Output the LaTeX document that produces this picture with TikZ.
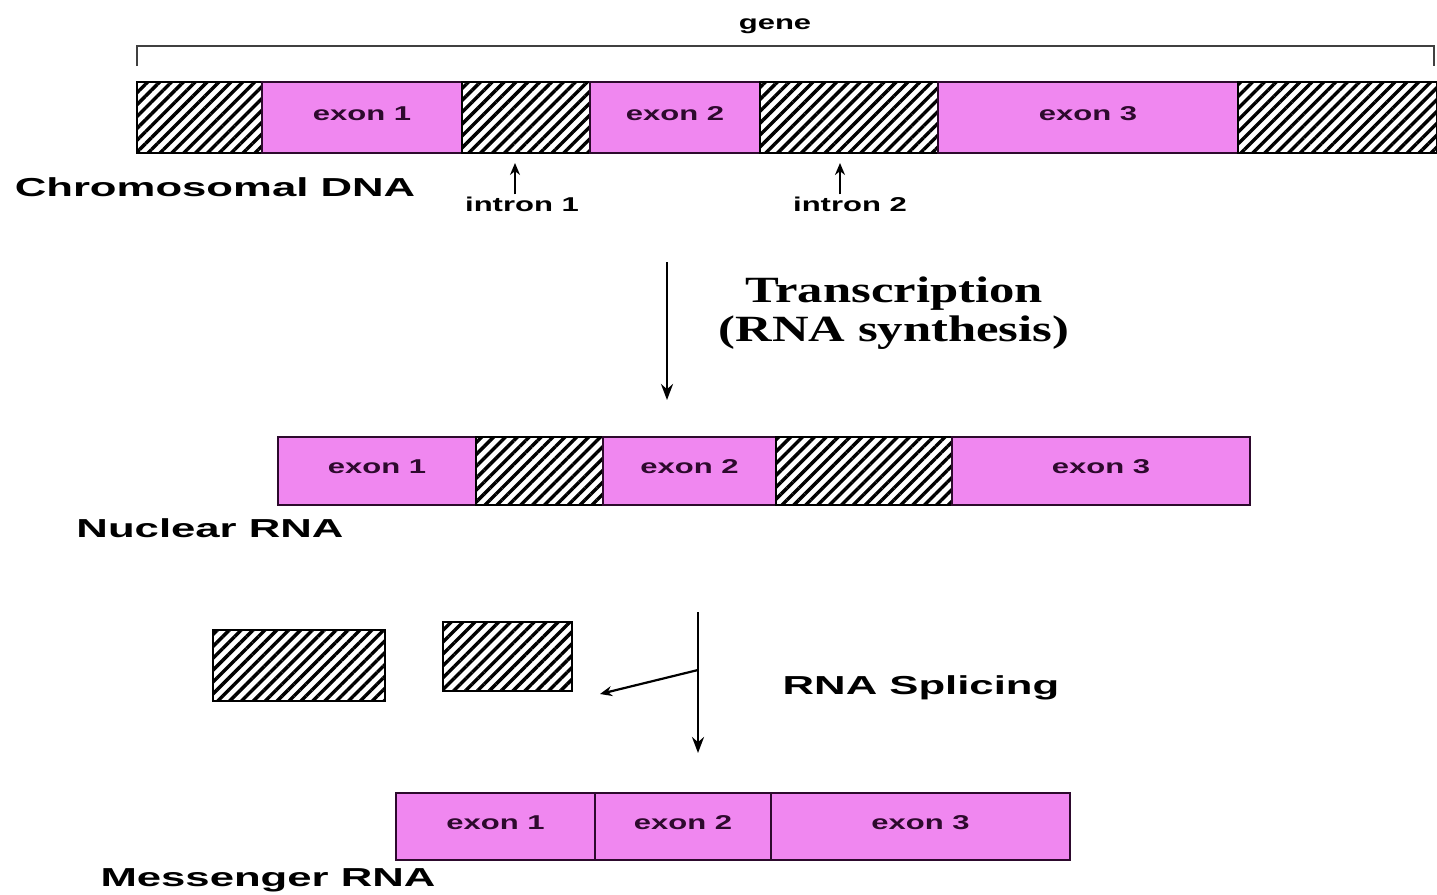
\documentclass[tikz,border=0pt]{standalone}
\usepackage{fontspec}
\setmainfont{Liberation Serif}
\newfontfamily\lblfont[FakeStretch=1.55]{Liberation Sans}
\newfontfamily\biglblfont[FakeStretch=1.68]{Liberation Sans}
\newfontfamily\serfont[FakeStretch=1.37]{Liberation Serif}
\usetikzlibrary{patterns.meta,fit,arrows.meta}
\definecolor{exonpink}{RGB}{240,135,240}
\definecolor{edge}{RGB}{45,10,45}
\tikzset{
  seg/.style={draw=edge, line width=1.2pt, inner sep=0pt, outer sep=0pt},
  exon/.style={seg, fill=exonpink},
  intron/.style={seg, draw=black, pattern={Lines[angle=45,distance=4.2pt,line width=1.7pt]}},
  exlbl/.style={font=\lblfont\bfseries\fontsize{10}{12}\selectfont, inner sep=0pt, text=edge},
  biglbl/.style={font=\biglblfont\bfseries\fontsize{13}{15}\selectfont, inner sep=0pt},
  smalllbl/.style={font=\lblfont\bfseries\fontsize{10}{12}\selectfont, inner sep=0pt},
  serlbl/.style={font=\serfont\bfseries\fontsize{18.5}{19.5}\selectfont, inner sep=0pt, align=center},
  arr/.style={-{Stealth[length=8pt,width=6pt]}, line width=1.3pt},
  smallarr/.style={-{Stealth[length=6pt,width=5pt]}, line width=1.1pt}
}
\begin{document}
\begin{tikzpicture}[x=0.5pt,y=-0.5pt]
\useasboundingbox[fill=white] (0,0) rectangle (1437,895);
% gene bracket
\coordinate (gl) at (137,66);
\coordinate (gr) at (1434,66);
\draw[line width=1.2pt, draw=black!75] (gl) -- (137,46) -- (1434,46) -- (gr);
\node[smalllbl] (gene) at (775,26) {gene};
% chromosomal DNA
\node[intron, fit={(137,82) (262,153)}] (d0) {};
\node[exon, fit={(262,82) (462,153)}] (d1) {};
\node[intron, fit={(462,82) (590,153)}] (d2) {};
\node[exon, fit={(590,82) (760,153)}] (d3) {};
\node[intron, fit={(760,82) (938,153)}] (d4) {};
\node[exon, fit={(938,82) (1238,153)}] (d5) {};
\node[intron, fit={(1238,82) (1437,153)}] (d6) {};
\node[exlbl] (d1t) at ([yshift=2pt]d1.center) {exon 1};
\node[exlbl] (d3t) at ([yshift=2pt]d3.center) {exon 2};
\node[exlbl] (d5t) at ([yshift=2pt]d5.center) {exon 3};
\node[biglbl] (chrom) at (215,187) {Chromosomal DNA};
\node[smalllbl] (in1) at (522,204) {intron 1};
\node[smalllbl] (in2) at (850,204) {intron 2};
\draw[smallarr] (in1.north) ++(-7,-2) coordinate (in1a) -- (in1a |- d2.south) [shorten >=5pt];
\draw[smallarr] (in2.north) ++(-10,-2) coordinate (in2a) -- (in2a |- d4.south) [shorten >=5pt];
% transcription
\coordinate (t1) at (667,262);
\coordinate (t2) at (667,400);
\draw[arr] (t1) -- (t2);
\node[serlbl] (trans) at (894,313) {Transcription\\(RNA synthesis)};
% nuclear RNA
\node[exon, fit={(278,437) (476,505)}] (n1) {};
\node[intron, fit={(476,437) (603,505)}] (n2) {};
\node[exon, fit={(603,437) (776,505)}] (n3) {};
\node[intron, fit={(776,437) (952,505)}] (n4) {};
\node[exon, fit={(952,437) (1250,505)}] (n5) {};
\node[exlbl] (n1t) at ([yshift=2pt]n1.center) {exon 1};
\node[exlbl] (n3t) at ([yshift=2pt]n3.center) {exon 2};
\node[exlbl] (n5t) at ([yshift=2pt]n5.center) {exon 3};
\node[biglbl] (nuc) at (210,528) {Nuclear RNA};
% excised introns
\node[intron, fit={(213,630) (385,701)}] (x1) {};
\node[intron, fit={(443,622) (572,691)}] (x2) {};
% splicing
\coordinate (s1) at (698,612);
\coordinate (s2) at (698,753);
\coordinate (sb) at (698,670);
\coordinate (se) at (600,694);
\draw[arr] (s1) -- (s2);
\draw[smallarr] (sb) -- (se);
\node[biglbl] (splice) at (921,688) {RNA Splicing};
% messenger RNA
\node[exon, fit={(396,793) (595,860)}] (m1) {};
\node[exon, fit={(595,793) (771,860)}] (m2) {};
\node[exon, fit={(771,793) (1070,860)}] (m3) {};
\node[exlbl] (m1t) at ([yshift=2pt]m1.center) {exon 1};
\node[exlbl] (m2t) at ([yshift=2pt]m2.center) {exon 2};
\node[exlbl] (m3t) at ([yshift=2pt]m3.center) {exon 3};
\node[biglbl] (mrna) at (268,880) {Messenger RNA};
\end{tikzpicture}
\end{document}
